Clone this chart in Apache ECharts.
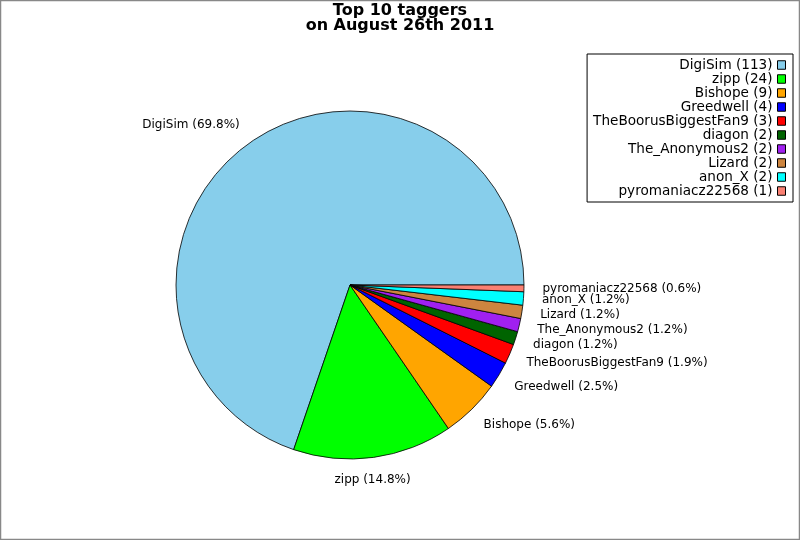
<!DOCTYPE html>
<html>
<head>
<meta charset="utf-8">
<script src="https://cdn.jsdelivr.net/npm/echarts@6/dist/echarts.min.js"></script>
<style>
html,body{margin:0;padding:0;background:#fff;}
#chart{width:800px;height:540px;}
</style>
</head>
<body>
<div id="chart"></div>
<script>
const titleLines = ['Top 10 taggers', 'on August 26th 2011'];
const names = ['DigiSim', 'zipp', 'Bishope', 'Greedwell', 'TheBoorusBiggestFan9', 'diagon', 'The_Anonymous2', 'Lizard', 'anon_X', 'pyromaniacz22568'];
const counts = [113, 24, 9, 4, 3, 2, 2, 2, 2, 1];
const colors = ['#87CEEB', '#00FF00', '#FFA500', '#0000FF', '#FF0000', '#006400', '#A020F0', '#CD853F', '#00FFFF', '#FA8072'];
const centeredLabels = ['zipp'];

const total = counts.reduce((a, b) => a + b, 0);
const FONT = 'DejaVu Sans';

const chart = echarts.init(document.getElementById('chart'), null, {renderer: 'canvas'});
chart.setOption({
  animation: false,
  backgroundColor: '#fff',
  title: {
    text: titleLines.join('\n'),
    left: 'center',
    top: 3,
    padding: 0,
    textStyle: {fontFamily: FONT, fontWeight: 'bold', fontSize: 16, lineHeight: 15, color: '#000'}
  },
  legend: {
    orient: 'vertical',
    right: 7,
    top: 54,
    align: 'right',
    padding: [4, 7, 4, 6],
    itemGap: 0,
    itemWidth: 8,
    itemHeight: 8.5,
    icon: 'rect',
    borderColor: '#000',
    borderWidth: 1,
    backgroundColor: '#fff',
    itemStyle: {borderColor: '#000', borderWidth: 1},
    textStyle: {fontFamily: FONT, fontSize: 13.6, lineHeight: 11, color: '#000'},
    formatter: function (n) { return n + ' (' + counts[names.indexOf(n)] + ')'; },
    data: names
  },
  graphic: [{
    type: 'rect',
    silent: true,
    z: 100,
    shape: {x: 0.5, y: 0.5, width: 799, height: 539},
    style: {fill: 'none', stroke: '#888', lineWidth: 1.5}
  }],
  series: [{
    type: 'pie',
    center: [350, 285],
    radius: 174,
    startAngle: 0,
    clockwise: false,
    avoidLabelOverlap: false,
    minAngle: 0,
    itemStyle: {borderColor: '#000', borderWidth: 0.8},
    label: {
      show: true,
      position: 'outside',
      distanceToLabelLine: 0,
      fontFamily: FONT,
      fontSize: 12,
      color: '#000',
      formatter: function (p) {
        return p.name + ' (' + (counts[p.dataIndex] / total * 100).toFixed(1) + '%)';
      }
    },
    labelLine: {show: true, length: 22.5, length2: -4, smooth: false, lineStyle: {width: 0, opacity: 0}},
    labelLayout: function (p) {
      if (centeredLabels.indexOf(names[p.dataIndex]) >= 0) return {align: 'center'};
      return {};
    },
    emphasis: {disabled: true},
    data: names.map((n, i) => ({name: n, value: counts[i], itemStyle: {color: colors[i]}}))
  }]
});
</script>
</body>
</html>
